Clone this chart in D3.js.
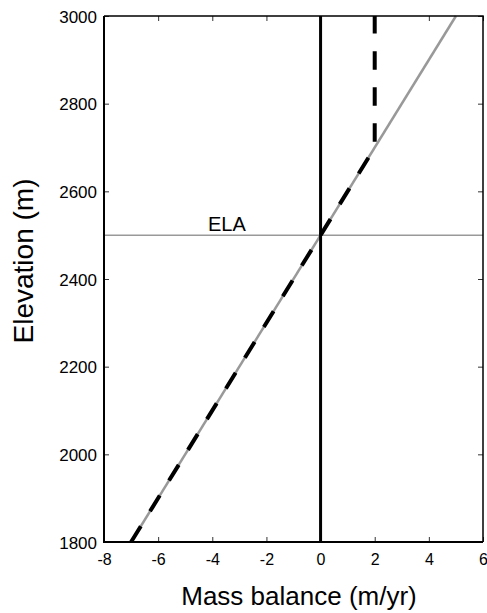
<!DOCTYPE html>
<html>
<head>
<meta charset="utf-8">
<script src="https://cdn.jsdelivr.net/npm/d3@7"></script>
<style>
  body { margin: 0; background: #fff; }
  text { font-family: "Liberation Sans", Arial, Helvetica, sans-serif; fill: #000; }
</style>
</head>
<body>
<script>
// data
var xTicks = [-8, -6, -4, -2, 0, 2, 4, 6];
var yTicks = [1800, 2000, 2200, 2400, 2600, 2800, 3000];
var balanceX = [-7, 5];          // gray mass balance gradient
var balanceY = [1800, 3000];
var cappedX = [-7, 2, 2];        // black dashed, capped at 2 m/yr
var cappedY = [1800, 2700, 3000];
var ela = 2500;

var width = 487, height = 613;
var pLeft = 104, pRight = 483, pTop = 16, pBottom = 542;

var svg = d3.select("body").append("svg")
    .attr("width", width)
    .attr("height", height);

var x = d3.scaleLinear().domain([-8, 6]).range([pLeft, pRight]);
var y = d3.scaleLinear().domain([1800, 3000]).range([pBottom, pTop]);

// plain hyphen minus like the original
var fmt = function(d){ return String(d); };

// axes, ticks pointing inward
var xAxis = svg.append("g")
    .attr("transform", "translate(0," + pBottom + ")")
    .call(d3.axisBottom(x).tickValues(xTicks).tickFormat(fmt).tickSizeInner(-5).tickSizeOuter(0).tickPadding(12));
xAxis.selectAll("text").style("font-size", "16px");

var yAxis = svg.append("g")
    .attr("transform", "translate(" + pLeft + ",0)")
    .call(d3.axisLeft(y).tickValues(yTicks).tickFormat(fmt).tickSizeInner(-5).tickSizeOuter(0).tickPadding(7));
yAxis.selectAll("text").style("font-size", "17px").attr("dy", "0.36em");

svg.append("g")
    .attr("transform", "translate(0," + pTop + ")")
    .call(d3.axisTop(x).tickValues(xTicks).tickSizeInner(-5).tickSizeOuter(0).tickFormat(""));
svg.append("g")
    .attr("transform", "translate(" + pRight + ",0)")
    .call(d3.axisRight(y).tickValues(yTicks).tickSizeInner(-5).tickSizeOuter(0).tickFormat(""));

svg.selectAll(".domain").remove();
svg.selectAll(".tick line").attr("stroke", "#333").attr("stroke-width", 1);

// ELA line
svg.append("line")
    .attr("x1", x(-8)).attr("x2", x(6))
    .attr("y1", y(ela)).attr("y2", y(ela))
    .attr("stroke", "#999").attr("stroke-width", 1.5);

svg.append("text")
    .attr("x", 208).attr("y", y(ela) - 4)
    .style("font-size", "20px")
    .text("ELA");

var line = d3.line()
    .x(function(d){ return x(d[0]); })
    .y(function(d){ return y(d[1]); });

// gray gradient
svg.append("path")
    .datum(d3.zip(balanceX, balanceY))
    .attr("d", line)
    .attr("fill", "none")
    .attr("stroke", "#999")
    .attr("stroke-width", 2.5);

// zero balance
svg.append("line")
    .attr("x1", x(0)).attr("x2", x(0))
    .attr("y1", y(1800)).attr("y2", y(3000))
    .attr("stroke", "#000").attr("stroke-width", 3);

// capped balance, dashed
svg.append("path")
    .datum(d3.zip(cappedX, cappedY))
    .attr("d", line)
    .attr("fill", "none")
    .attr("stroke", "#000")
    .attr("stroke-width", 4)
    .attr("stroke-dasharray", "18.5,17.6");

// frame
svg.append("path")
    .attr("d", "M" + pLeft + "," + pTop + "V" + pBottom + "H" + pRight)
    .attr("fill", "none").attr("stroke", "#000").attr("stroke-width", 2);
svg.append("path")
    .attr("d", "M" + pLeft + "," + pTop + "H" + pRight + "V" + pBottom)
    .attr("fill", "none").attr("stroke", "#000").attr("stroke-width", 1.5);

// labels
svg.append("text")
    .attr("x", 299).attr("y", 605)
    .attr("text-anchor", "middle")
    .style("font-size", "26px")
    .text("Mass balance (m/yr)");

svg.append("text")
    .attr("transform", "translate(33,261) rotate(-90)")
    .attr("text-anchor", "middle")
    .style("font-size", "28px")
    .text("Elevation (m)");
</script>
</body>
</html>
